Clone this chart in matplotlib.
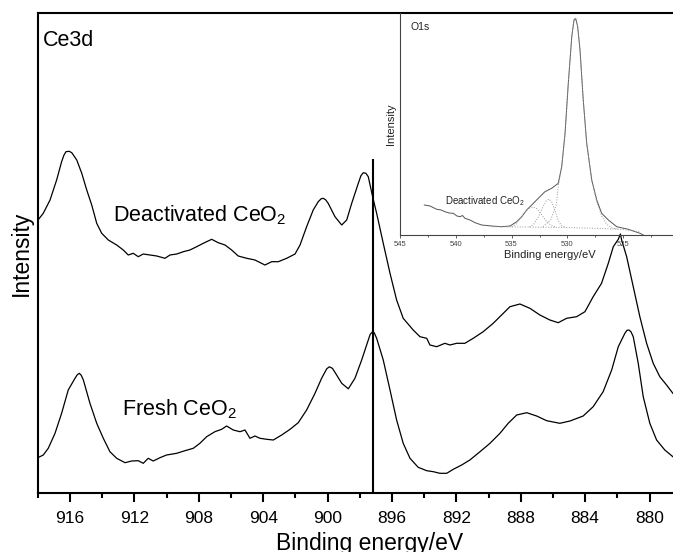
import numpy as np
import matplotlib
matplotlib.use("Agg")
import matplotlib.pyplot as plt
from matplotlib.ticker import MultipleLocator

plt.rcParams['font.family'] = 'Liberation Sans'
plt.rcParams['mathtext.fontset'] = 'custom'
plt.rcParams['mathtext.rm'] = 'Liberation Sans'
plt.rcParams['mathtext.default'] = 'regular'

# Ce 3d spectra (binding energy in eV, intensity in a.u.)
deact_be = [918.07, 917.66, 917.24, 916.83, 916.52, 916.38, 916.25, 916.05, 915.89, 915.58,
            915.27, 914.96, 914.65, 914.34, 914.03, 913.62, 913.10, 912.69, 912.38, 912.07,
            911.76, 911.45, 911.03, 910.61, 910.10, 909.79, 909.37, 908.96, 908.55, 908.13,
            907.72, 907.20, 906.79, 906.37, 905.96, 905.55, 905.02, 904.51, 903.89, 903.47,
            903.06, 902.54, 902.02, 901.71, 901.30, 900.89, 900.58, 900.40, 900.27, 900.12,
            899.96, 899.54, 899.12, 898.81, 898.50, 898.09, 897.93, 897.78, 897.62, 897.47,
            897.20, 896.95, 896.54, 896.12, 895.71, 895.30, 894.68, 894.26, 893.84, 893.64,
            893.22, 892.71, 892.40, 891.98, 891.47, 890.95, 890.33, 889.71, 889.19, 888.67,
            888.05, 887.43, 886.81, 886.19, 885.67, 885.15, 884.53, 884.01, 883.50, 882.98,
            882.56, 882.25, 881.94, 881.81, 881.73, 881.42, 881.01, 880.60, 880.18, 879.77,
            879.36, 878.94, 878.55, 878.0]
deact_int = [271.6, 280.0, 293.3, 313.3, 331.6, 338.0, 341.6, 342.0, 340.6, 333.3,
             320.0, 303.3, 288.3, 270.0, 260.0, 253.3, 248.3, 243.3, 238.3, 240.0,
             236.6, 239.3, 238.3, 237.3, 235.0, 238.3, 239.3, 241.6, 243.3, 246.6,
             250.0, 254.0, 250.6, 248.3, 243.3, 237.3, 235.0, 233.3, 228.3, 231.6,
             231.6, 235.0, 239.3, 248.3, 266.6, 283.3, 291.6, 294.5, 295.0, 293.5,
             290.0, 276.6, 268.3, 273.3, 290.0, 310.0, 317.5, 320.6, 320.0, 316.6,
             296.6, 280.0, 250.0, 220.0, 193.3, 175.0, 163.3, 156.6, 155.0, 148.3,
             146.6, 150.0, 148.3, 150.0, 150.0, 155.0, 161.6, 170.0, 178.3, 186.6,
             189.3, 185.0, 178.3, 173.3, 170.6, 175.0, 176.6, 181.6, 196.6, 210.0,
             230.0, 246.6, 254.0, 259.3, 253.3, 236.6, 206.6, 176.6, 150.0, 130.0,
             116.6, 108.3, 100.0, 92.0]

fresh_be = [918.07, 917.66, 917.35, 916.93, 916.52, 916.11, 915.69, 915.55, 915.42, 915.30,
            915.17, 914.76, 914.34, 913.93, 913.52, 913.10, 912.58, 912.17, 911.76, 911.45,
            911.14, 910.83, 910.41, 910.00, 909.37, 908.86, 908.34, 907.93, 907.51, 907.00,
            906.58, 906.27, 905.86, 905.44, 905.13, 904.82, 904.51, 904.20, 903.78, 903.37,
            902.85, 902.33, 901.82, 901.30, 900.78, 900.37, 900.05, 899.89, 899.70, 899.54,
            899.12, 898.71, 898.30, 897.88, 897.47, 897.35, 897.20, 897.10, 896.95, 896.54,
            896.12, 895.71, 895.30, 894.88, 894.37, 893.84, 893.43, 893.02, 892.60, 892.19,
            891.67, 891.16, 890.53, 889.91, 889.29, 888.78, 888.25, 887.63, 887.01, 886.39,
            885.57, 884.94, 884.12, 883.50, 882.88, 882.35, 881.94, 881.53, 881.40, 881.28,
            881.15, 881.01, 880.70, 880.39, 879.98, 879.56, 879.05, 878.55, 878.0]
fresh_int = [35.0, 38.3, 45.0, 60.0, 80.0, 103.3, 115.0, 118.5, 120.0, 118.0,
             113.3, 90.0, 70.0, 55.0, 41.6, 35.0, 30.6, 32.3, 32.6, 30.0,
             35.0, 32.3, 35.6, 38.3, 40.0, 42.6, 45.0, 50.0, 56.6, 61.6,
             64.0, 67.3, 63.3, 61.6, 63.3, 55.0, 57.3, 55.0, 54.0, 53.3,
             58.3, 64.0, 70.6, 83.3, 100.0, 115.0, 124.5, 126.5, 125.0, 121.0,
             110.0, 104.5, 115.0, 133.3, 153.3, 159.0, 161.6, 160.5, 155.0, 133.3,
             103.3, 73.3, 50.0, 35.0, 26.0, 22.6, 21.6, 20.0, 20.0, 24.0,
             28.3, 33.3, 41.6, 50.0, 60.0, 70.0, 78.3, 80.6, 77.3, 72.6,
             70.0, 72.3, 77.3, 86.6, 101.6, 123.3, 146.6, 160.0, 163.0, 163.3,
             161.5, 156.6, 130.0, 96.6, 70.0, 53.3, 43.3, 36.6, 31.0]

ref_line = 897.15

# O 1s spectrum of the deactivated sample and its fitted components
o1s_be = [542.82, 542.31, 541.71, 541.30, 540.97, 540.60, 540.22, 539.90, 539.62, 539.40,
          539.18, 538.73, 538.28, 537.68, 536.78, 535.89, 535.14, 534.54, 534.09, 533.65,
          533.20, 532.61, 532.01, 531.41, 530.82, 530.51, 530.21, 529.92, 529.61, 529.41,
          529.26, 529.08, 528.87, 528.58, 528.27, 527.82, 527.37, 526.93, 526.33, 525.58,
          524.54, 523.49, 523.20]
o1s_int = [30.0, 29.0, 25.7, 25.0, 23.3, 22.0, 21.7, 19.0, 18.3, 19.5,
           16.7, 15.0, 12.3, 10.0, 9.0, 8.3, 9.0, 13.3, 18.3, 25.0,
           30.0, 36.7, 43.3, 46.7, 51.7, 68.3, 101.7, 151.7, 198.3, 215.0,
           216.7, 208.3, 185.0, 135.0, 91.7, 55.0, 35.0, 21.7, 15.0, 8.3,
           5.7, 1.7, 0.0]

lattice_be = [532.20, 531.50, 531.00, 530.80, 530.51, 530.21, 529.92, 529.61, 529.41, 529.26,
              529.08, 528.87, 528.58, 528.27, 527.82, 527.37, 526.93, 526.50, 526.00, 525.50]
lattice_int = [8.3, 15.0, 30.0, 50.0, 68.3, 101.7, 151.7, 198.3, 215.0, 216.7,
               208.3, 185.0, 135.0, 91.7, 55.0, 33.0, 19.0, 11.0, 7.0, 6.0]

oh_be = [533.40, 533.00, 532.60, 532.20, 531.90, 531.65, 531.40, 531.10, 530.80, 530.50, 530.20]
oh_int = [8.0, 11.0, 18.0, 28.0, 34.0, 36.0, 33.0, 24.0, 14.0, 9.0, 8.0]

h2o_be = [535.00, 534.60, 534.20, 533.80, 533.40, 533.05, 532.70, 532.30, 531.90, 531.50, 531.10]
h2o_int = [8.0, 11.0, 17.0, 23.0, 27.0, 28.0, 26.0, 20.0, 14.0, 10.0, 8.0]

base_be = [536.80, 534.00, 530.00, 527.00, 525.00, 523.50]
base_int = [8.3, 8.0, 7.5, 6.5, 5.5, 3.0]

fig = plt.figure(figsize=(6.73, 5.52), dpi=100)
ax = fig.add_axes([37.8 / 673, 1 - 493.3 / 552, 660 / 673, 480 / 552])

ax.plot(deact_be, deact_int, color='black', lw=0.9)
ax.plot(fresh_be, fresh_int, color='black', lw=0.9)
ax.vlines(ref_line, 0, 334, color='black', lw=1.5)

ax.set_xlim(918, 877)
ax.set_ylim(0, 480)
ax.xaxis.set_major_locator(MultipleLocator(4))
ax.xaxis.set_minor_locator(MultipleLocator(2))
ax.set_yticks([])
ax.tick_params(axis='x', which='major', direction='out', length=6.7, width=1.5,
               labelsize=12.5, pad=6)
ax.tick_params(axis='x', which='minor', direction='out', length=3.6, width=1.5)
ax.spines['right'].set_visible(False)
for s in ['left', 'bottom', 'top']:
    ax.spines[s].set_linewidth(1.5)

ax.set_xlabel('Binding energy/eV', fontsize=16.5)
ax.xaxis.set_label_coords(0.503, -0.080)
ax.set_ylabel('Intensity', fontsize=16.5)
ax.yaxis.set_label_coords(-0.008, 0.5)

ax.text(917.68, 447.6, 'Ce3d', fontsize=15.5, va='baseline')
ax.text(913.31, 271.6, 'Deactivated CeO$_2$', fontsize=15.5, va='baseline')
ax.text(912.79, 78.3, 'Fresh CeO$_2$', fontsize=15.5, va='baseline')

# inset: O 1s region
ins = fig.add_axes([400 / 673, 1 - 235 / 552, 279 / 673, 221.7 / 552])
ins.patch.set_visible(False)
ins.plot(o1s_be, o1s_int, color='#555555', lw=0.7)
for be, it in [(lattice_be, lattice_int), (oh_be, oh_int), (h2o_be, h2o_int), (base_be, base_int)]:
    ins.plot(be, it, color='#999999', lw=0.7, ls=':')

ins.set_xlim(545, 520)
ins.set_ylim(0, 221.7)
ins.xaxis.set_major_locator(MultipleLocator(5))
ins.xaxis.set_minor_locator(MultipleLocator(2.5))
ins.set_yticks([])
ins.tick_params(axis='x', which='major', direction='out', length=2.5, width=0.6,
                labelsize=5.5, pad=2, colors='#444444')
ins.tick_params(axis='x', which='minor', direction='out', length=1.5, width=0.6,
                colors='#444444')
ins.spines['right'].set_visible(False)
ins.spines['top'].set_visible(False)
for s in ['left', 'bottom']:
    ins.spines[s].set_linewidth(0.8)
    ins.spines[s].set_color('#444444')

ins.set_xlabel('Binding energy/eV', fontsize=8, color='#222222')
ins.xaxis.set_label_coords(0.538, -0.068)
ins.set_ylabel('Intensity', fontsize=8, color='#222222')
ins.yaxis.set_label_coords(-0.015, 0.5)
ins.text(544.1, 205, 'O1s', fontsize=7.5, va='baseline', color='#222222')
ins.text(540.97, 31, 'Deactivated CeO$_2$', fontsize=7, va='baseline', color='#222222')

fig.savefig('out.png', dpi=100)
